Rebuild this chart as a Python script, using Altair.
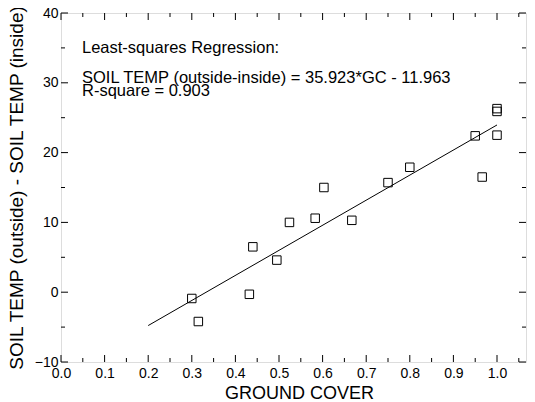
import altair as alt
import pandas as pd

# Data
ground_cover = [0.30, 0.315, 0.432, 0.44, 0.495, 0.524, 0.583, 0.603, 0.667, 0.75, 0.80, 0.95, 0.966, 1.0, 1.0, 1.0]
temp_diff = [-0.9, -4.2, -0.3, 6.5, 4.6, 10.0, 10.6, 15.0, 10.3, 15.7, 17.9, 22.4, 16.5, 22.5, 25.9, 26.3]

slope = 35.923
intercept = -11.963
line_x = [0.2, 1.0]

x_major = [0.0, 0.1, 0.2, 0.3, 0.4, 0.5, 0.6, 0.7, 0.8, 0.9, 1.0]
x_minor = [0.05, 0.15, 0.25, 0.35, 0.45, 0.55, 0.65, 0.75, 0.85, 0.95, 1.05]
y_major = [-10, 0, 10, 20, 30, 40]
y_minor = [-5, 5, 15, 25, 35]

notes = ["Least-squares Regression:",
         "SOIL TEMP (outside-inside) = 35.923*GC - 11.963",
         "R-square = 0.903"]

W, H = 465, 349
FONT = "Liberation Sans"

xs = alt.Scale(domain=[0, 1.0665], nice=False, zero=False)
ys = alt.Scale(domain=[-10, 40], nice=False, zero=False)

pts_df = pd.DataFrame({"gc": ground_cover, "dt": temp_diff})
line_df = pd.DataFrame({"gc": line_x, "dt": [slope * v + intercept for v in line_x]})

base_x = alt.X("gc:Q", scale=xs, axis=alt.Axis(
    title="GROUND COVER", values=x_major, format=".1f", ticks=False, domain=False,
    grid=False, labelFontSize=14, labelFont=FONT, labelColor="black", labelPadding=4,
    labelFlush=False, labelOverlap=False,
    titleFontSize=18, titleFont=FONT, titleFontWeight="normal", titleColor="black",
    titleBaseline="alphabetic", titleAlign="center", titleX=238, titleY=36))
base_y = alt.Y("dt:Q", scale=ys, axis=alt.Axis(
    title="SOIL TEMP (outside) - SOIL TEMP (inside)", values=y_major, format="d",
    ticks=False, domain=False, grid=False, labelFontSize=14, labelFont=FONT,
    labelColor="black", labelPadding=3, labelFlush=False, labelOverlap=False,
    titleFontSize=19, titleFont=FONT,
    titleFontWeight="normal", titleColor="black", titleBaseline="alphabetic",
    titleX=-39, titleY=H / 2, titleAlign="center", titleAngle=-90))

points = alt.Chart(pts_df).mark_point(shape="square", size=72, filled=False,
                                      color="black", strokeWidth=1, opacity=1).encode(
    x=base_x, y=base_y)

line = alt.Chart(line_df).mark_line(color="black", strokeWidth=1).encode(
    x=alt.X("gc:Q", scale=xs), y=alt.Y("dt:Q", scale=ys))


def xticks(vals, length):
    df = pd.DataFrame({"v": vals})
    bottom = alt.Chart(df).mark_rule(color="black", strokeWidth=1).encode(
        x=alt.X("v:Q", scale=xs), y=alt.value(H), y2=alt.value(H - length))
    top = alt.Chart(df).mark_rule(color="black", strokeWidth=1).encode(
        x=alt.X("v:Q", scale=xs), y=alt.value(0), y2=alt.value(length))
    return [bottom, top]


def yticks(vals, length):
    df = pd.DataFrame({"v": vals})
    left = alt.Chart(df).mark_rule(color="black", strokeWidth=1).encode(
        y=alt.Y("v:Q", scale=ys), x=alt.value(0), x2=alt.value(length))
    right = alt.Chart(df).mark_rule(color="black", strokeWidth=1).encode(
        y=alt.Y("v:Q", scale=ys), x=alt.value(W), x2=alt.value(W - length))
    return [left, right]


tick_layers = xticks(x_major, 7) + xticks(x_minor, 4) + yticks(y_major, 7) + yticks(y_minor, 4)

note_layers = []
for txt, ypix in zip(notes, [35, 65, 78]):
    note_layers.append(
        alt.Chart(pd.DataFrame({"t": [txt]})).mark_text(
            align="left", baseline="middle", fontSize=16.5, font=FONT, color="black").encode(
            text="t:N", x=alt.value(21), y=alt.value(ypix)))

chart = alt.layer(points, line, *tick_layers, *note_layers).properties(
    width=W, height=H,
    autosize=alt.AutoSizeParams(type="none"),
    padding={"left": 53, "top": 5, "right": 1, "bottom": 40},
).configure_view(stroke="black", strokeWidth=1).configure(background="white")

chart.save("out.html", embed_options={"renderer": "svg", "actions": False})
